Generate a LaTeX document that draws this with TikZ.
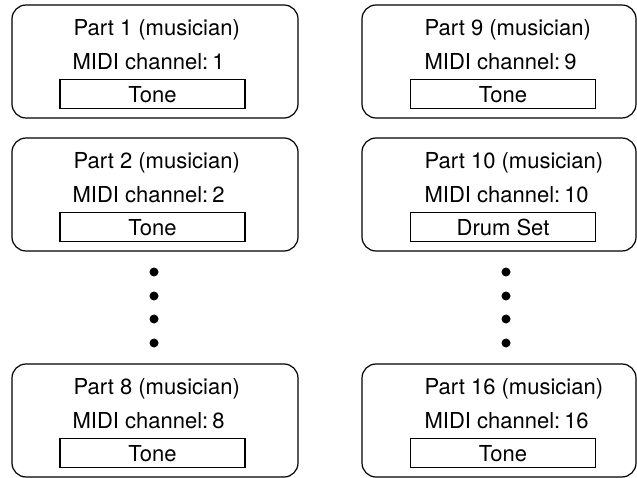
\documentclass[tikz,border=0pt]{standalone}
\usepackage{fontspec}
\setmainfont{TeX Gyre Heros}
\usepackage{tikz}
\usetikzlibrary{positioning}

\begin{document}
\begin{tikzpicture}[
  x=1pt, y=-1pt,
  font=\fontsize{22}{26}\selectfont,
  % Block styles
  partbox/.style={
    draw, line width=1.2pt, rounded corners=14pt,
    minimum height=113pt, inner sep=0pt
  },
  tonebox/.style={
    draw, line width=1.1pt,
    minimum width=185pt, minimum height=29pt, inner sep=0pt
  },
  caption/.style={anchor=base west, inner sep=0pt},
  dot/.style={circle, fill=black, inner sep=0pt, minimum size=9pt}
]
\useasboundingbox (0,0) rectangle (637,478);

% ── Left column: parts 1, 2, 8 ───────────────────────────────────────────────
\foreach \n/\y in {1/61.5, 2/194.5, 8/420.5} {
  \node[partbox, minimum width=286pt] (p\n) at (155,\y) {};
  \node[caption] (h\n) at ([xshift=62pt, yshift=-31pt]p\n.north west) {Part \n\ (musician)};
  \node[caption] (c\n) at ([xshift=61pt, yshift=-65pt]p\n.north west) {MIDI channel:\hspace{0.18em}\n};
  \node[tonebox] (t\n) at ([xshift=-2.5pt, yshift=-90pt]p\n.north) {Tone};
}

% ── Right column: parts 9, 10, 16 ────────────────────────────────────────────
\foreach \n/\y/\s in {9/61.5/Tone, 10/194.5/Drum Set, 16/420.5/Tone} {
  \node[partbox, minimum width=274pt] (p\n) at (499,\y) {};
  \node[caption] (h\n) at ([xshift=63pt, yshift=-31pt]p\n.north west) {Part \n\ (musician)};
  \node[caption] (c\n) at ([xshift=63pt, yshift=-65pt]p\n.north west) {MIDI channel:\hspace{0.18em}\n};
  \node[tonebox] (t\n) at ([xshift=4pt, yshift=-90pt]p\n.north) {\s};
}

% ── Ellipsis dots ────────────────────────────────────────────────────────────
\foreach \k/\y in {a/272, b/296, c/319, d/343} {
  \node[dot] (ld\k) at (154,\y) {};
  \node[dot] (rd\k) at (506,\y) {};
}

\end{tikzpicture}
\end{document}
